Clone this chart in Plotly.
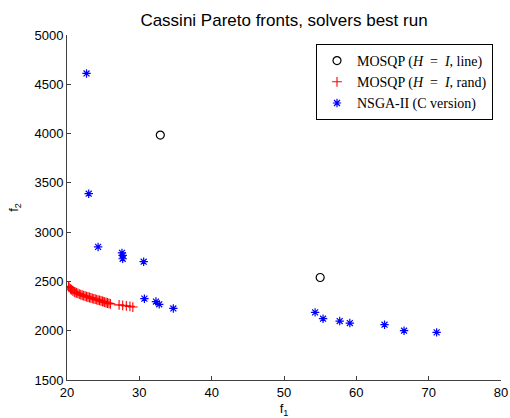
import plotly.graph_objects as go

# MOSQP, H = I, line search start points
line_f1 = [32.9, 55.0]
line_f2 = [3985, 2540]

# MOSQP, H = I, random start points
rand_f1 = [20.2, 20.3, 20.5, 20.6, 20.8, 21.0, 21.1, 21.3, 21.5, 21.7, 21.9, 22.1,
           22.3, 22.5, 22.7, 22.9, 23.1, 23.3, 23.5, 23.7, 23.9, 24.1, 24.3, 24.5,
           24.7, 24.9, 25.0, 25.2, 25.4, 25.6, 25.8, 26.0, 27.2, 27.7, 28.2, 28.7, 29.1]
rand_f2 = [2450, 2440, 2425, 2415, 2405, 2395, 2390, 2385, 2378, 2372, 2366, 2360,
           2356, 2350, 2346, 2342, 2337, 2333, 2328, 2324, 2320, 2315, 2311, 2307,
           2302, 2298, 2295, 2290, 2286, 2281, 2277, 2272, 2262, 2258, 2252, 2247, 2240]

# NSGA-II (C version)
nsga_f1 = [22.7, 23.0, 24.3, 27.6, 27.7, 27.7, 30.6, 30.7, 32.3, 32.75, 34.7,
           54.3, 55.4, 57.7, 59.1, 63.9, 66.6, 71.1]
nsga_f2 = [4610, 3390, 2850, 2790, 2765, 2730, 2700, 2325, 2296, 2268, 2226,
           2186, 2122, 2098, 2078, 2061, 2000, 1983]

x_ticks = [20, 30, 40, 50, 60, 70, 80]
y_ticks = [1500, 2000, 2500, 3000, 3500, 4000, 4500, 5000]

SANS = "Liberation Sans, Arial, sans-serif"
SERIF = "Liberation Serif, Times New Roman, serif"
EQ = "\u2002=\u2002"

fig = go.Figure()
fig.add_trace(go.Scatter(
    x=line_f1, y=line_f2, mode="markers",
    name=f"MOSQP (<i>H</i>{EQ}<i>I</i>, line)",
    marker=dict(symbol="circle-open", size=8, color="black", line=dict(width=1.2)),
))
fig.add_trace(go.Scatter(
    x=rand_f1, y=rand_f2, mode="markers",
    name=f"MOSQP (<i>H</i>{EQ}<i>I</i>, rand)",
    marker=dict(symbol="cross-thin-open", size=7, color="red", line=dict(width=1.1, color="red")),
))
fig.add_trace(go.Scatter(
    x=nsga_f1, y=nsga_f2, mode="markers",
    name="NSGA-II (C version)",
    marker=dict(symbol="asterisk-open", size=7, color="blue", line=dict(width=1.2, color="blue")),
))

axis_common = dict(
    showgrid=False, zeroline=False, showline=True, linecolor="#404040", linewidth=1,
    ticks="inside", ticklen=4, tickcolor="#404040", mirror=False, automargin=False,
    tickfont=dict(family=SANS, size=13, color="black"),
)

fig.update_layout(
    width=510, height=418,
    margin=dict(l=67, r=9, t=35, b=38),
    paper_bgcolor="white", plot_bgcolor="white",
    title=dict(text="Cassini Pareto fronts, solvers best run", x=(67 + 501) / 2 / 510,
               xanchor="center", y=1 - 20 / 418, yanchor="middle",
               font=dict(family=SANS, size=17, color="black")),
    xaxis=dict(range=[20, 80], tickvals=x_ticks, **axis_common,
               title=dict(text="f<sub>1</sub>", standoff=7,
                          font=dict(family=SANS, size=13, color="black"))),
    yaxis=dict(range=[1500, 5000], tickvals=y_ticks, **axis_common,
               title=dict(text="f<sub>2</sub>", standoff=12,
                          font=dict(family=SANS, size=13, color="black"))),
    legend=dict(x=(493 - 67) / 434, y=1 - (44 - 35) / 345, xanchor="right", yanchor="top",
                bordercolor="black", borderwidth=1, bgcolor="white",
                font=dict(family=SERIF, size=14, color="black"),
                tracegroupgap=0, itemwidth=30),
    showlegend=True,
)

fig.write_html("out.html")
